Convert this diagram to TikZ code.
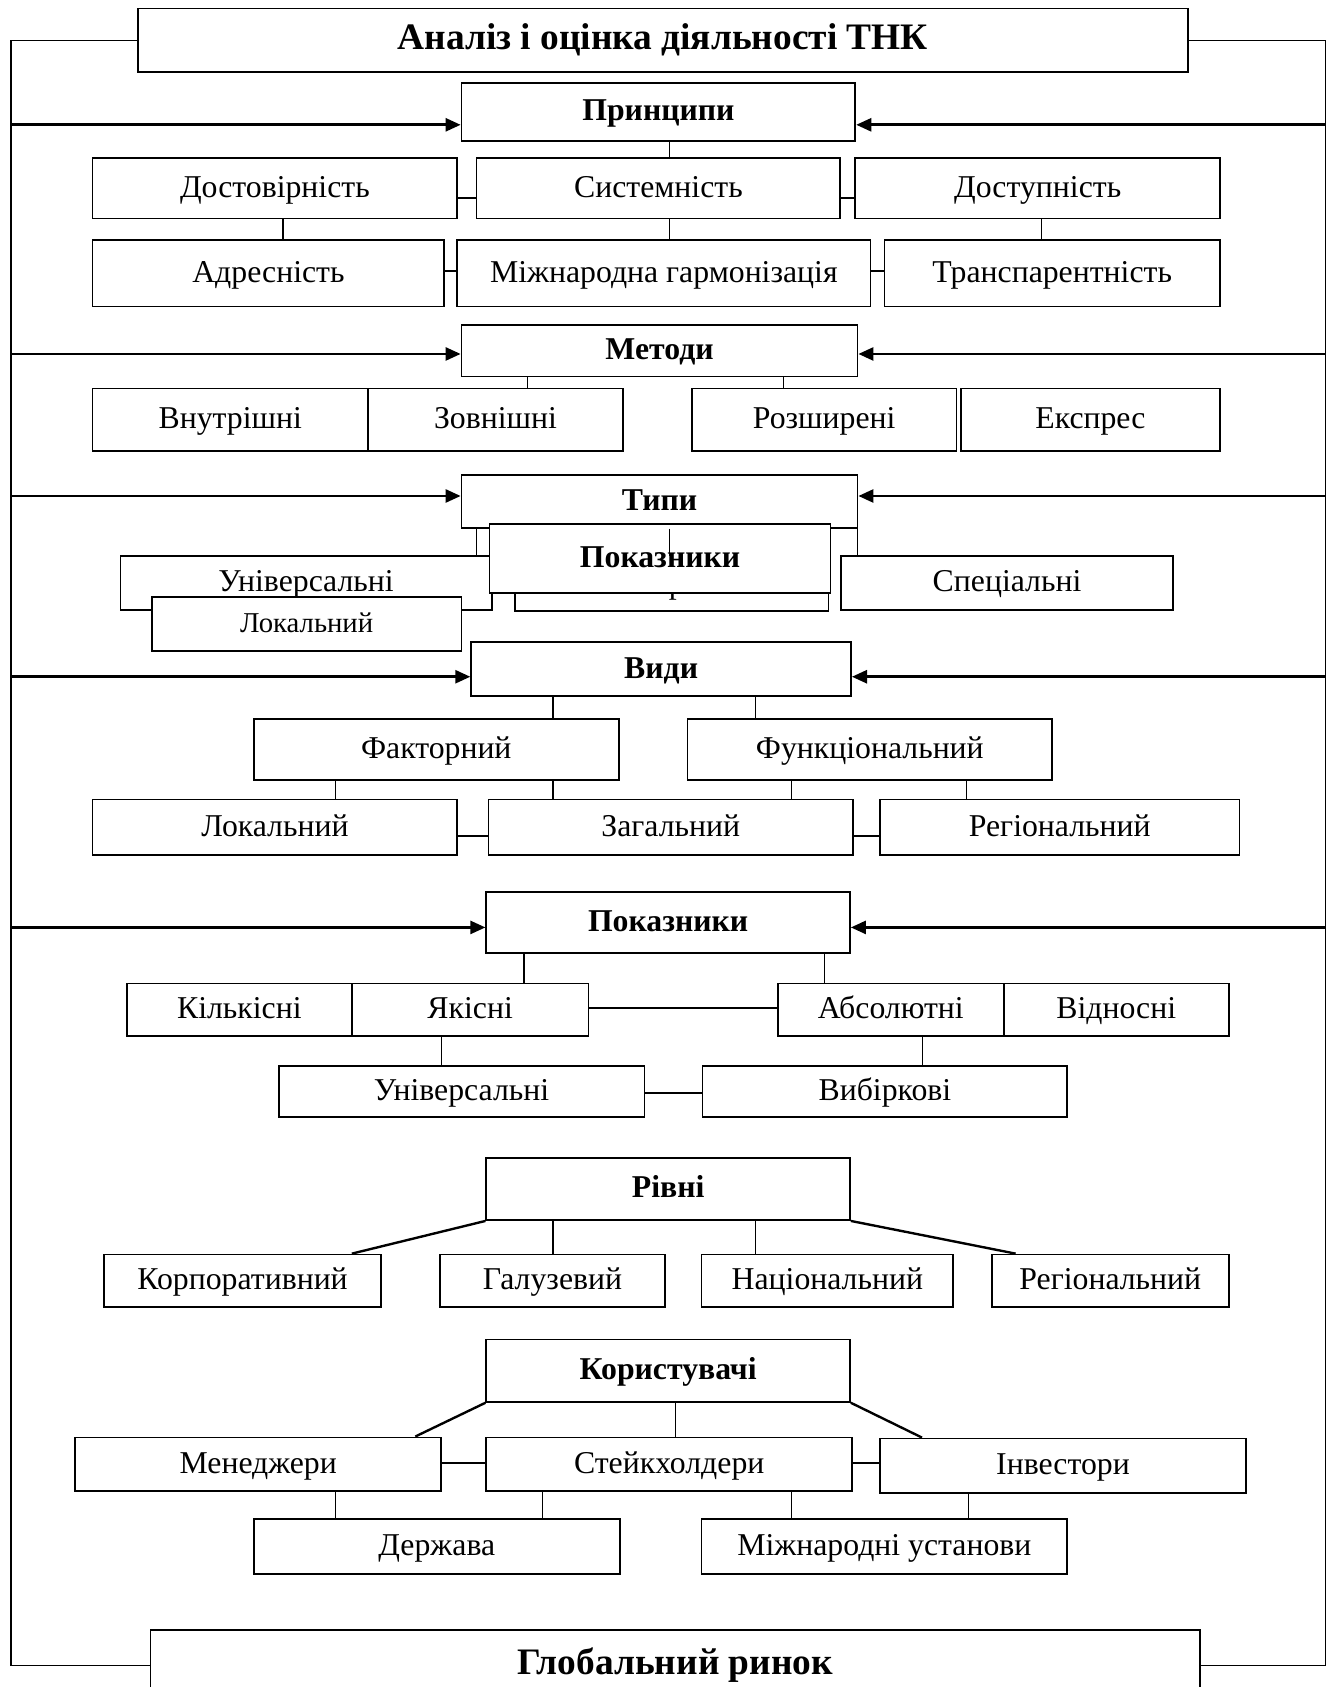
\documentclass[tikz,border=0pt]{standalone}
\usepackage{fontspec}
\setmainfont{Liberation Serif}
\usetikzlibrary{positioning}
\usetikzlibrary{calc}
\usetikzlibrary{arrows.meta}

\tikzset{
  box/.style={draw, fill=white, line width=0.8pt, inner sep=0pt, text height=0.82em, text depth=0em,
    font=\fontsize{14.7}{17}\selectfont},
  head/.style={box, font=\fontsize{14.7}{17}\selectfont\bfseries},
  wh/.style 2 args={minimum width=#1*0.0175cm, minimum height=#2*0.0175cm},
  link/.style={line width=0.5pt},
  tie/.style={line width=1.1pt},
  frame/.style={line width=0.7pt},
  arr/.style={line width=1.3pt, -{Triangle[length=7pt,width=6pt]}},
}

\begin{document}
\begin{tikzpicture}[x=0.0175cm, y=-0.0175cm]
    \useasboundingbox (0,0) rectangle (1239,1568);
    \coordinate (lft) at (10,0);
    \coordinate (rgt) at (1232,0);

    % title and market
    \node[head, wh={976}{59}, font=\fontsize{17.3}{20}\selectfont\bfseries] (title) at (616,37.5) {Аналіз і оцінка діяльності ТНК};
    \node[head, wh={975}{66}, font=\fontsize{17.3}{20}\selectfont\bfseries] (market) at (627.5,1548) {Глобальний ринок};
    \draw[frame] (title.west) -- (lft |- title.west) -- (lft |- market.west) -- (market.west);
    \draw[frame] (title.east) -- (rgt |- title.east) -- (rgt |- market.east) -- (market.east);

    % principles
    \node[head, wh={366}{54}] (princ) at (612,104) {Принципи};
    \node[box, wh={339}{56}] (dost) at (255.5,175) {Достовірність};
    \node[box, wh={338}{56}] (syst) at (612,175) {Системність};
    \node[box, wh={339}{56}] (dostup) at (964.5,175) {Доступність};
    \node[box, wh={327}{62}] (adr) at (249.5,254) {Адресність};
    \node[box, wh={384}{62}] (harm) at (617,254) {Міжнародна гармонізація};
    \node[box, wh={312}{62}] (transp) at (978,254) {Транспарентність};

    % methods
    \node[head, wh={368}{48}] (meth) at (613,326) {Методи};
    \node[box, wh={256}{58}] (inner) at (214,390) {Внутрішні};
    \node[box, wh={237}{58}] (outer) at (460.5,390) {Зовнішні};
    \node[box, wh={246}{58}] (ext) at (766,390) {Розширені};
    \node[box, wh={241}{58}] (expr) at (1013.5,390) {Експрес};

    % types
    \node[head, wh={368}{49}] (types) at (613,466) {Типи};
    \node[box, wh={345}{50}] (uni1) at (284.5,542) {Універсальні};
    \node[box, wh={291}{50}] (vyb0) at (624.5,543) {Вибіркові};
    \node[box, wh={308}{50}] (spec) at (936,542) {Спеціальні};
    \node[head, wh={317}{64}] (ind0) at (613.5,519) {Показники};
    \node[box, wh={288}{50}, font=\fontsize{13.3}{15}\selectfont] (lok0) at (285,580) {Локальний};

    % kinds
    \node[head, wh={353}{50}] (vydy) at (614.5,622) {Види};
    \node[box, wh={339}{57}] (fakt) at (405.5,696.5) {Факторний};
    \node[box, wh={339}{57}] (func) at (808.5,696.5) {Функціональний};
    \node[box, wh={339}{52}] (lok) at (255.5,769) {Локальний};
    \node[box, wh={339}{52}] (zag) at (623.5,769) {Загальний};
    \node[box, wh={334}{52}] (reg) at (985,769) {Регіональний};

    % indicators
    \node[head, wh={338}{57}] (ind) at (621,857.5) {Показники};
    \node[box, wh={209}{49}] (kil) at (222.5,938.5) {Кількісні};
    \node[box, wh={220}{49}] (yak) at (437,938.5) {Якісні};
    \node[box, wh={210}{49}] (abs) at (828,938.5) {Абсолютні};
    \node[box, wh={209}{49}] (vidn) at (1037.5,938.5) {Відносні};
    \node[box, wh={340}{47}] (univ) at (429,1014.5) {Універсальні};
    \node[box, wh={339}{47}] (vyb) at (822.5,1014.5) {Вибіркові};

    % levels
    \node[head, wh={338}{58}] (levels) at (621,1105) {Рівні};
    \node[box, wh={257}{49}] (korp) at (225.5,1190.5) {Корпоративний};
    \node[box, wh={209}{49}] (galuz) at (513.5,1190.5) {Галузевий};
    \node[box, wh={234}{49}] (nat) at (769,1190.5) {Національний};
    \node[box, wh={220}{49}] (reg2) at (1032,1190.5) {Регіональний};

    % users
    \node[head, wh={338}{58}] (users) at (621,1274) {Користувачі};
    \node[box, wh={340}{50}] (man) at (240,1361) {Менеджери};
    \node[box, wh={340}{50}] (stake) at (622,1361) {Стейкхолдери};
    \node[box, wh={340}{51}] (inv) at (988,1362.5) {Інвестори};
    \node[box, wh={340}{51}] (derzh) at (406,1437.5) {Держава};
    \node[box, wh={340}{51}] (mizh) at (822,1437.5) {Міжнародні установи};

    % arrows from the frame
    \foreach \n/\y in {princ/116, meth/329, types/461, vydy/629, ind/862} {
      \draw[arr] (lft |- 0,\y) -- (\n.west |- 0,\y);
      \draw[arr] (rgt |- 0,\y) -- (\n.east |- 0,\y);
    }

    % vertical links
    \foreach \a/\b/\x in {princ/syst/622, dost/adr/263, syst/harm/622, dostup/transp/968,
        meth/outer/490, meth/ext/728, types/uni1/443, types/vyb0/622, types/spec/797,
        vydy/fakt/514, vydy/func/702, fakt/lok/312, fakt/zag/514, func/zag/736, func/reg/898,
        ind/yak/487, ind/abs/766, yak/univ/410, abs/vyb/857,
        levels/galuz/514, levels/nat/702,
        users/stake/628, man/derzh/312, stake/derzh/504, stake/mizh/736, inv/mizh/900}
      \draw[link] (\a.south -| \x,0) -- (\b.north -| \x,0);

    % horizontal ties
    \foreach \a/\b/\y in {dost/syst/184, syst/dostup/184, adr/harm/252, harm/transp/252,
        lok/zag/777, zag/reg/777, yak/abs/937, univ/vyb/1016, man/stake/1360, stake/inv/1360}
      \draw[tie] (\a.east |- 0,\y) -- (\b.west |- 0,\y);

    % diagonal links
    \draw[tie] (levels.south west) -- (korp.north -| 327,0);
    \draw[tie] (levels.south east) -- (reg2.north -| 944,0);
    \draw[tie] (users.south west) -- (man.north -| 386,0);
    \draw[tie] (users.south east) -- (inv.north -| 857,0);
\end{tikzpicture}
\end{document}
